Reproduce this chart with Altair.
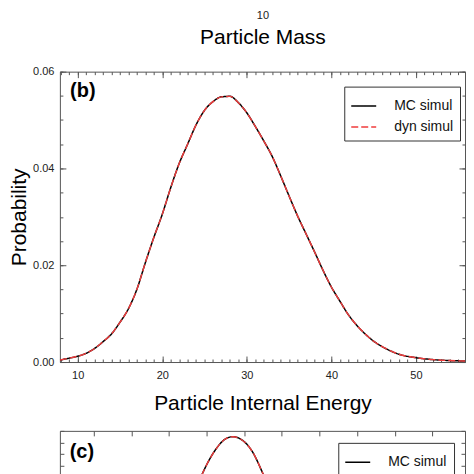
import altair as alt
import pandas as pd

FONT = "Liberation Sans"

# ---------------- Panel (b): particle internal energy ----------------
energy = [7.9, 9, 10, 11, 12, 13, 14, 15, 16, 17, 18, 19, 20, 21, 22, 23, 24, 25,
          26, 27, 28, 29, 30, 31, 32, 33, 34, 35, 36, 37, 38, 39, 40, 41, 42, 43,
          44, 45, 46, 47, 48, 50, 52, 54, 56.7]
prob_mc = [0.0004, 0.0008, 0.0012, 0.0018, 0.0028, 0.0042, 0.0058, 0.0082, 0.0110,
           0.0150, 0.0205, 0.0257, 0.0305, 0.0360, 0.0410, 0.0450, 0.0490, 0.0520,
           0.0538, 0.0548, 0.0549, 0.0536, 0.0515, 0.0487, 0.0457, 0.0425, 0.0385,
           0.0343, 0.0302, 0.0265, 0.0228, 0.0190, 0.0155, 0.0126, 0.0098, 0.0076,
           0.0058, 0.0043, 0.0032, 0.0023, 0.0016, 0.0009, 0.0005, 0.0003, 0.0002]
prob_dyn = [0.0004, 0.0008, 0.0012, 0.0018, 0.0028, 0.0042, 0.0058, 0.0082, 0.0110,
            0.0150, 0.0205, 0.0257, 0.0305, 0.0360, 0.0410, 0.0450, 0.0490, 0.0520,
            0.0538, 0.0548, 0.0549, 0.0536, 0.0515, 0.0487, 0.0457, 0.0425, 0.0385,
            0.0343, 0.0302, 0.0265, 0.0228, 0.0190, 0.0155, 0.0126, 0.0098, 0.0076,
            0.0058, 0.0043, 0.0032, 0.0023, 0.0016, 0.0009, 0.0005, 0.0003, 0.0002]
series = ["MC simul", "dyn simul"]
energy_major = [10, 20, 30, 40, 50]
energy_minor = list(range(8, 56))
prob_major = [0.0, 0.02, 0.04, 0.06]
prob_minor = [i * 0.005 for i in range(13)]

# ---------------- Panel (a): only its bottom axis is visible ----------------
mass_ticks = [10]

# ---------------- Panel (c): partly visible ----------------
c_x = [1.0, 2.0, 3.0, 3.5, 3.9, 4.2, 4.5, 4.7, 4.9, 5.2, 5.5, 5.9, 6.4, 7.5, 9.0]
c_mc = [0.010, 0.055, 0.134, 0.181, 0.214, 0.232, 0.243, 0.245, 0.243, 0.233,
        0.213, 0.180, 0.132, 0.045, 0.008]
c_dyn = [0.010, 0.055, 0.134, 0.181, 0.214, 0.232, 0.243, 0.245, 0.243, 0.233,
         0.213, 0.180, 0.132, 0.045, 0.008]
c_x_ticks = [1, 2, 3, 4, 5, 6, 7, 8, 9, 10]
c_y_ticks = [i * 0.01 for i in range(26)]
c_y_labels = [0.0, 0.1, 0.2]

TICK = "#555555"
RED = "#f03c3c"
DASHES = [[1, 0], [7, 3]]
WIDTHS = [1.5, 1.4]
TITLE_SIZE = 21


def tick_axis(orient, values, size):
    return alt.Axis(orient=orient, values=values, tickSize=size, offset=-size,
                    labels=False, domain=False, grid=False, title=None,
                    tickColor=TICK, tickWidth=1)


def legend_cfg(x, y):
    return alt.Legend(title=None, orient="none", legendX=x, legendY=y,
                      symbolType="stroke", symbolSize=625, symbolStrokeWidth=1.5,
                      labelFont=FONT, labelFontSize=14, labelColor="#111111",
                      labelOffset=17, padding=6, rowPadding=-17,
                      strokeColor="#333333", fillColor="white")


# ---- panel b (carries panel a's leftover axis on top) ----
df_b = pd.DataFrame({
    "energy": energy + energy,
    "prob": prob_mc + prob_dyn,
    "series": [series[0]] * len(energy) + [series[1]] * len(energy),
})
xs_b = alt.Scale(domain=[7.9, 55.8], nice=False, zero=False)
ys_b = alt.Scale(domain=[0, 0.06], nice=False)

lines_b = alt.Chart(df_b).mark_line(interpolate="monotone", clip=True).encode(
    x=alt.X("energy:Q", scale=xs_b,
            axis=alt.Axis(orient="bottom", values=energy_major, tickSize=6, offset=-6,
                          domain=False, grid=False, tickColor=TICK, labelPadding=8,
                          labelFontSize=11, labelColor="#222222",
                          title="Particle Internal Energy", titleFontSize=TITLE_SIZE,
                          titleFontWeight="normal", titlePadding=12)),
    y=alt.Y("prob:Q", scale=ys_b,
            axis=alt.Axis(orient="left", values=prob_major, format=".2f", tickSize=6,
                          offset=-6, domain=False, grid=False, tickColor=TICK,
                          labelPadding=6, labelFontSize=11, labelColor="#222222",
                          title="Probability", titleFontSize=TITLE_SIZE,
                          titleFontWeight="normal", titlePadding=3)),
    color=alt.Color("series:N", scale=alt.Scale(domain=series, range=["#000000", RED]),
                    legend=legend_cfg(285, 15)),
    strokeDash=alt.StrokeDash("series:N", scale=alt.Scale(domain=series, range=DASHES),
                              legend=legend_cfg(285, 15)),
    strokeWidth=alt.StrokeWidth("series:N", scale=alt.Scale(domain=series, range=WIDTHS),
                                legend=None),
)

df_mc_b = pd.DataFrame({"energy": energy, "prob": prob_mc})
ghost_b1 = alt.Chart(df_mc_b).mark_point(opacity=0, size=1, clip=True).encode(
    x=alt.X("energy:Q", scale=xs_b, axis=tick_axis("bottom", energy_minor, 3)),
    y=alt.Y("prob:Q", scale=ys_b, axis=tick_axis("left", prob_minor, 3)),
)
ghost_b2 = alt.Chart(df_mc_b).mark_point(opacity=0, size=1, clip=True).encode(
    x=alt.X("energy:Q", scale=xs_b, axis=tick_axis("top", energy_major, 6)),
    y=alt.Y("prob:Q", scale=ys_b, axis=tick_axis("right", prob_major, 6)),
)
ghost_b3 = alt.Chart(df_mc_b).mark_point(opacity=0, size=1, clip=True).encode(
    x=alt.X("energy:Q", scale=xs_b, axis=tick_axis("top", energy_minor, 3)),
    y=alt.Y("prob:Q", scale=ys_b, axis=tick_axis("right", prob_minor, 3)),
)
# leftover bottom axis of panel (a): "10" tick label and its title
ghost_a = alt.Chart(pd.DataFrame({"mass": mass_ticks})).mark_point(
    opacity=0, size=1).encode(
    x=alt.X("mass:Q", scale=alt.Scale(type="log", domain=[1, 100], nice=False),
            axis=alt.Axis(orient="top", values=mass_ticks, format="d", ticks=False,
                          tickSize=0, domain=False, grid=False, offset=49,
                          labelPadding=2, labelFontSize=11, labelColor="#222222",
                          title="Particle Mass", titleFontSize=TITLE_SIZE,
                          titleFontWeight="normal", titleY=15,
                          titleBaseline="middle")),
)
label_b = alt.Chart(pd.DataFrame({"t": ["(b)"]})).mark_text(
    font=FONT, fontSize=20, fontWeight="bold", align="center", baseline="middle",
    color="#000000").encode(x=alt.value(23), y=alt.value(19), text="t:N")

panel_b = alt.layer(lines_b, ghost_b1, ghost_b2, ghost_b3, ghost_a, label_b).resolve_scale(
    x="independent").resolve_axis(x="independent", y="independent").properties(
    width=406, height=291, view=alt.ViewBackground(stroke="#555555", strokeWidth=1))

# ---- panel c ----
df_c = pd.DataFrame({
    "x": c_x + c_x,
    "p": c_mc + c_dyn,
    "series": [series[0]] * len(c_x) + [series[1]] * len(c_x),
})
xs_c = alt.Scale(domain=[0.1, 10.87], nice=False, zero=False)
ys_c = alt.Scale(domain=[0, 0.25], nice=False)

lines_c = alt.Chart(df_c).mark_line(interpolate="monotone", clip=True).encode(
    x=alt.X("x:Q", scale=xs_c,
            axis=alt.Axis(orient="bottom", values=c_x_ticks, tickSize=5, offset=-5,
                          domain=False, grid=False, tickColor=TICK, labelFontSize=11,
                          labelColor="#222222", title=None)),
    y=alt.Y("p:Q", scale=ys_c,
            axis=alt.Axis(orient="left", values=c_y_labels, format=".1f", tickSize=5,
                          offset=-5, domain=False, grid=False, tickColor=TICK,
                          labelPadding=6, labelFontSize=11, labelColor="#222222",
                          title="Probability", titleFontSize=TITLE_SIZE,
                          titleFontWeight="normal", titlePadding=3)),
    color=alt.Color("series:N", scale=alt.Scale(domain=series, range=["#000000", RED]),
                    legend=legend_cfg(279, 12)),
    strokeDash=alt.StrokeDash("series:N", scale=alt.Scale(domain=series, range=DASHES),
                              legend=legend_cfg(279, 12)),
    strokeWidth=alt.StrokeWidth("series:N", scale=alt.Scale(domain=series, range=WIDTHS),
                                legend=None),
)
df_mc_c = pd.DataFrame({"x": c_x, "p": c_mc})
ghost_c1 = alt.Chart(df_mc_c).mark_point(opacity=0, size=1, clip=True).encode(
    x=alt.X("x:Q", scale=xs_c, axis=tick_axis("top", c_x_ticks, 5)),
    y=alt.Y("p:Q", scale=ys_c, axis=tick_axis("right", c_y_ticks, 4)),
)
ghost_c2 = alt.Chart(df_mc_c).mark_point(opacity=0, size=1, clip=True).encode(
    y=alt.Y("p:Q", scale=ys_c, axis=tick_axis("left", c_y_ticks, 4)),
)
label_c = alt.Chart(pd.DataFrame({"t": ["(c)"]})).mark_text(
    font=FONT, fontSize=20, fontWeight="bold", align="center", baseline="middle",
    color="#000000").encode(x=alt.value(22), y=alt.value(21), text="t:N")

panel_c = alt.layer(lines_c, ghost_c1, ghost_c2, label_c).resolve_axis(
    x="independent", y="independent").properties(
    width=406, height=291, view=alt.ViewBackground(stroke="#555555", strokeWidth=1))

indep = dict(color="independent", strokeDash="independent", strokeWidth="independent")
chart = alt.vconcat(panel_b, panel_c, spacing=15).resolve_legend(**indep).properties(
    padding=0).configure_axis(
    labelFont=FONT, titleFont=FONT, titleColor="#000000"
).configure_legend(labelFont=FONT)

chart.save("out.html", embed_options={"renderer": "svg", "actions": False})
